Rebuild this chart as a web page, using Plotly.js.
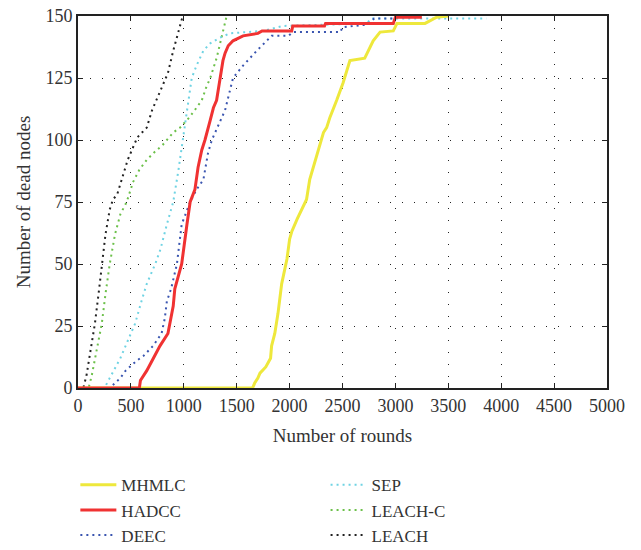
<!DOCTYPE html>
<html>
<head>
<meta charset="utf-8">
<script src="https://cdn.plot.ly/plotly-3.0.1.min.js"></script>
<style>html,body{margin:0;padding:0;background:#fff;}#chart{width:641px;height:550px;}</style>
</head>
<body>
<div id="chart"></div>
<script>
const xTicks = [0,500,1000,1500,2000,2500,3000,3500,4000,4500,5000];
const yTicks = [0,25,50,75,100,125,150];

const mhmlcX = [0,1650,1670,1700,1720,1775,1820,1830,1860,1890,1925,1975,2000,2020,2070,2115,2160,2190,2225,2270,2320,2350,2380,2445,2505,2570,2710,2790,2855,2980,3015,3280,3345,3390,3500];
const mhmlcY = [0,0,2,4,6,8.5,12,17,22,30,42,52,60,63,68,72,76,84,89,96,103,105,109,116,123,132,133,140,143.5,144,147,147,148.5,149.5,150];

const hadccX = [0,580,590,620,650,700,740,775,850,870,900,915,950,980,1030,1060,1105,1135,1170,1200,1250,1280,1310,1340,1370,1390,1420,1465,1560,1700,1740,2020,2030,2330,2340,2980,3000,3250];
const hadccY = [0,0,3,5,7,11,14,17,22,26,33,40,45,50,66,75,80,89,96,100,108,113,116,125,132,135,138,140,142,143,144,144,146,146,147,147,149.5,149.5];

const deecX = [0,300,350,400,450,500,555,620,710,790,820,840,880,935,980,1060,1120,1185,1230,1265,1330,1390,1465,1560,1690,1815,1830,1990,2030,2480,2500,2730,2800,3000];
const deecY = [0,0,2,4,7,9,11,13,17,22,28,35,40,50,66,75,80,84,95,100,106,112,125,130,136,141.5,142,142,143.5,143.5,145.5,146.5,149,149];

const sepX = [0,250,300,350,400,450,540,600,650,730,780,840,900,950,990,1040,1075,1120,1185,1250,1330,1435,1750,1940,2730,2770,3860];
const sepY = [0,0,4,8,12,17,26,35,42,50,56,66,75,88,100,116,125,130,136,139,141,143,144,146,147,149,149];

const leachcX = [0,100,130,170,225,260,300,350,400,460,500,520,580,650,720,800,840,900,965,1050,1120,1170,1210,1250,1310,1370,1405];
const leachcY = [0,0,5,14,26,38,50,62,70,75,80,83,88,92,95,98,100,103,105,109,113,116,121,125,133,143,150];

const leachX = [0,50,80,120,160,200,225,260,300,330,370,420,470,520,560,605,650,700,760,820,850,900,945,970,990];
const leachY = [0,0,5,15,26,40,50,62,72,76,78,85,92,97,101,103,105,112,118,124,127,136,143,148,150];

const FONT = 'Liberation Serif';

const traces = [
  {x: leachX, y: leachY, name: 'LEACH', legend: 'legend2', legendrank: 3,
   mode: 'lines', line: {color: '#222222', width: 2, dash: '2px,4px'}},
  {x: leachcX, y: leachcY, name: 'LEACH-C', legend: 'legend2', legendrank: 2,
   mode: 'lines', line: {color: '#6cc04a', width: 2, dash: '2px,4px'}},
  {x: sepX, y: sepY, name: 'SEP', legend: 'legend2', legendrank: 1,
   mode: 'lines', line: {color: '#6fd3e3', width: 2, dash: '2px,4px'}},
  {x: deecX, y: deecY, name: 'DEEC', legend: 'legend', legendrank: 3,
   mode: 'lines', line: {color: '#3a55b0', width: 2, dash: '2px,4px'}},
  {x: mhmlcX, y: mhmlcY, name: 'MHMLC', legend: 'legend', legendrank: 1,
   mode: 'lines', line: {color: '#eee83c', width: 3}},
  {x: hadccX, y: hadccY, name: 'HADCC', legend: 'legend', legendrank: 2,
   mode: 'lines', line: {color: '#f03232', width: 3}}
];

const axisCommon = {
  showline: true, linecolor: '#222', linewidth: 2, mirror: 'ticks',
  ticks: 'inside', ticklen: 5, tickcolor: '#222', tickwidth: 1,
  showgrid: true, gridcolor: '#222', gridwidth: 1, griddash: '1px,11px',
  zeroline: false, tickfont: {family: FONT, size: 18, color: '#333'}
};

const layout = {
  width: 641, height: 550,
  margin: {l: 78, r: 34, t: 16, b: 162, autoexpand: false},
  paper_bgcolor: '#fff', plot_bgcolor: '#fff',
  font: {family: FONT, color: '#333'},
  xaxis: Object.assign({}, axisCommon, {
    range: [0, 5000], tickvals: xTicks, ticktext: xTicks.map(String),
    automargin: false,
    title: {text: 'Number of rounds', font: {family: FONT, size: 19, color: '#333'}, standoff: 14}
  }),
  yaxis: Object.assign({}, axisCommon, {
    range: [0, 150], tickvals: yTicks, ticktext: yTicks.map(String),
    automargin: false,
    title: {text: 'Number of dead nodes', font: {family: FONT, size: 19, color: '#333'}, standoff: 10}
  }),
  showlegend: true,
  legend: {x: -0.005, xanchor: 'left', y: -0.213, yanchor: 'top', traceorder: 'normal',
           font: {family: FONT, size: 17, color: '#333'}, bgcolor: 'rgba(0,0,0,0)',
           itemwidth: 36, tracegroupgap: 0},
  legend2: {x: 0.468, xanchor: 'left', y: -0.213, yanchor: 'top', traceorder: 'normal',
           font: {family: FONT, size: 17, color: '#333'}, bgcolor: 'rgba(0,0,0,0)',
           itemwidth: 36, tracegroupgap: 0}
};

Plotly.newPlot('chart', traces, layout, {displayModeBar: false, staticPlot: true});
</script>
</body>
</html>
